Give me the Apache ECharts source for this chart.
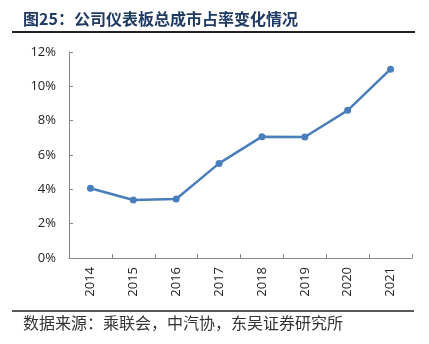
<!DOCTYPE html>
<html><head><meta charset="utf-8">
<script src="https://cdn.jsdelivr.net/npm/echarts@6/dist/echarts.min.js"></script>
<style>html,body{margin:0;padding:0;background:#fff}#c{width:429px;height:344px}</style>
</head><body><div id="c"></div>
<script>
var titleText = '图25：公司仪表板总成市占率变化情况';
var sourceText = '数据来源：乘联会，中汽协，东吴证券研究所';
var categories = ['2014','2015','2016','2017','2018','2019','2020','2021'];
var shareValues = [4.06, 3.38, 3.44, 5.51, 7.07, 7.05, 8.6, 11.0];
var yTicks = [0, 2, 4, 6, 8, 10, 12];

var chart = echarts.init(document.getElementById('c'), null, {renderer:'canvas'});
chart.setOption({
  backgroundColor:'#fff',
  animation:false,
  graphic:[
    {type:'text', left:23, top:11, style:{text:titleText, font:'bold 16px "Noto Sans CJK SC"', fill:'#1F3A64'}},
    {type:'line', shape:{x1:12,y1:32,x2:415,y2:32}, style:{stroke:'#222', lineWidth:2}},
    {type:'line', shape:{x1:12,y1:311,x2:414,y2:311}, style:{stroke:'#222', lineWidth:1.5}},
    {type:'text', left:23, top:315, style:{text:sourceText, font:'16px "Noto Sans CJK SC"', fill:'#333'}}
  ],
  grid:{left:69, right:17, top:52, bottom:86},
  xAxis:{
    type:'category', data:categories, boundaryGap:true,
    axisLine:{lineStyle:{color:'#868686', width:1}},
    axisTick:{show:true, inside:true, length:4, lineStyle:{color:'#868686'}},
    axisLabel:{rotate:90, margin:9, fontSize:13, color:'#222', fontFamily:'"Open Sans"'}
  },
  yAxis:{
    type:'value', min:0, max:12, interval:2,
    axisLine:{show:true, lineStyle:{color:'#868686', width:1}},
    axisTick:{show:true, inside:true, length:4, lineStyle:{color:'#868686'}},
    splitLine:{show:false},
    axisLabel:{margin:13, fontSize:13, color:'#222', fontFamily:'"Open Sans"',
      formatter:function(v){ return yTicks.indexOf(v) >= 0 ? v + '%' : ''; }}
  },
  series:[{
    type:'line', data:shareValues,
    symbol:'circle', symbolSize:7,
    lineStyle:{color:'#4A7EBB', width:2.5},
    itemStyle:{color:'#4A7EBB'}
  }]
});
</script></body></html>
